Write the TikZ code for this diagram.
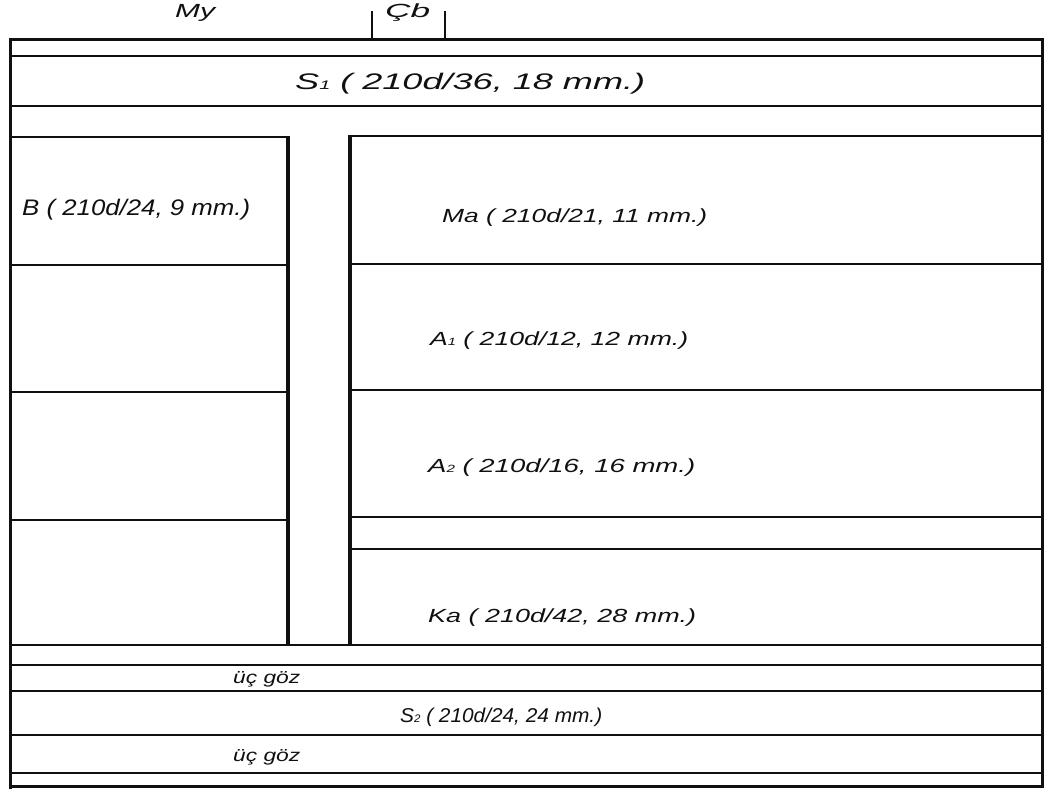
\documentclass[tikz,border=0pt]{standalone}
\usepackage{fontspec}
\setsansfont{Liberation Sans}
\usepackage{graphicx}
\usetikzlibrary{positioning}
\definecolor{ink}{HTML}{101010}
\tikzset{
  wall/.style={draw=ink, line width=2.1pt},
  edge/.style={draw=ink, line width=3pt},
  post/.style={draw=ink, line width=3.6pt},
  lbl/.style={anchor=base west, inner sep=0pt, text=ink},
  bigtext/.style={lbl, font=\sffamily\itshape\fontsize{22.5}{24}\selectfont},
  midtext/.style={lbl, font=\sffamily\itshape\fontsize{19}{21}\selectfont},
  smalltext/.style={lbl, font=\sffamily\itshape\fontsize{17.5}{19}\selectfont}
}
% stretch a label to a given width, height kept
\newcommand{\fitw}[2]{\resizebox{#1}{\height}{#2}}
\newcommand{\low}[1]{\scalebox{0.55}{#1}}

\begin{document}
\begin{tikzpicture}[x=1pt, y=-1pt]
  \useasboundingbox (0,0) rectangle (1062,789);
  % outer frame
  \draw[edge] (10,789) -- (10,40) -- (1042,40) -- (1042,786) -- (10,786);
  % top strips
  \draw[wall] (10,56) -- (1042,56);
  \draw[wall] (10,106) -- (1042,106);
  % left column
  \draw[wall] (10,137) -- (288,137);
  \foreach \y in {265,392,520}
    \draw[wall] (10,\y) -- (288,\y);
  \draw[post] (288,136) -- (288,646);
  % right column
  \draw[wall] (350,136) -- (1042,136);
  \foreach \y in {264,390,517,549}
    \draw[wall] (350,\y) -- (1042,\y);
  \draw[post] (350,135) -- (350,646);
  % bottom strips
  \foreach \y in {645,665,691,735,773}
    \draw[wall] (10,\y) -- (1042,\y);
  % marks round Cb
  \draw[wall] (372,11) -- (372,40);
  \draw[wall] (445,11) -- (445,40);

  \node[midtext] (my) at (175,18) {\fitw{40pt}{My}};
  \node[midtext] (cb) at (385,18) {\fitw{45pt}{Çb}};
  \node[bigtext] (s1) at (295,89) {\fitw{350pt}{S\low{1} ( 210d/36, 18 mm.)}};
  \node[bigtext] (b) at (22,215) {\fitw{228pt}{B ( 210d/24, 9 mm.)}};
  \node[midtext] (ma) at (442,222) {\fitw{265pt}{Ma ( 210d/21, 11 mm.)}};
  \node[midtext] (a1) at (430,345) {\fitw{258pt}{A\low{1} ( 210d/12, 12 mm.)}};
  \node[midtext] (a2) at (428,472) {\fitw{267pt}{A\low{2} ( 210d/16, 16 mm.)}};
  \node[midtext] (ka) at (428,622) {\fitw{268pt}{Ka ( 210d/42, 28 mm.)}};
  \node[smalltext] (goz1) at (233,683) {\fitw{67pt}{üç göz}};
  \node[bigtext, font=\sffamily\itshape\fontsize{20}{22}\selectfont] (s2) at (400,722) {\fitw{202pt}{S\low{2} ( 210d/24, 24 mm.)}};
  \node[smalltext] (goz2) at (233,761) {\fitw{67pt}{üç göz}};
\end{tikzpicture}
\end{document}
